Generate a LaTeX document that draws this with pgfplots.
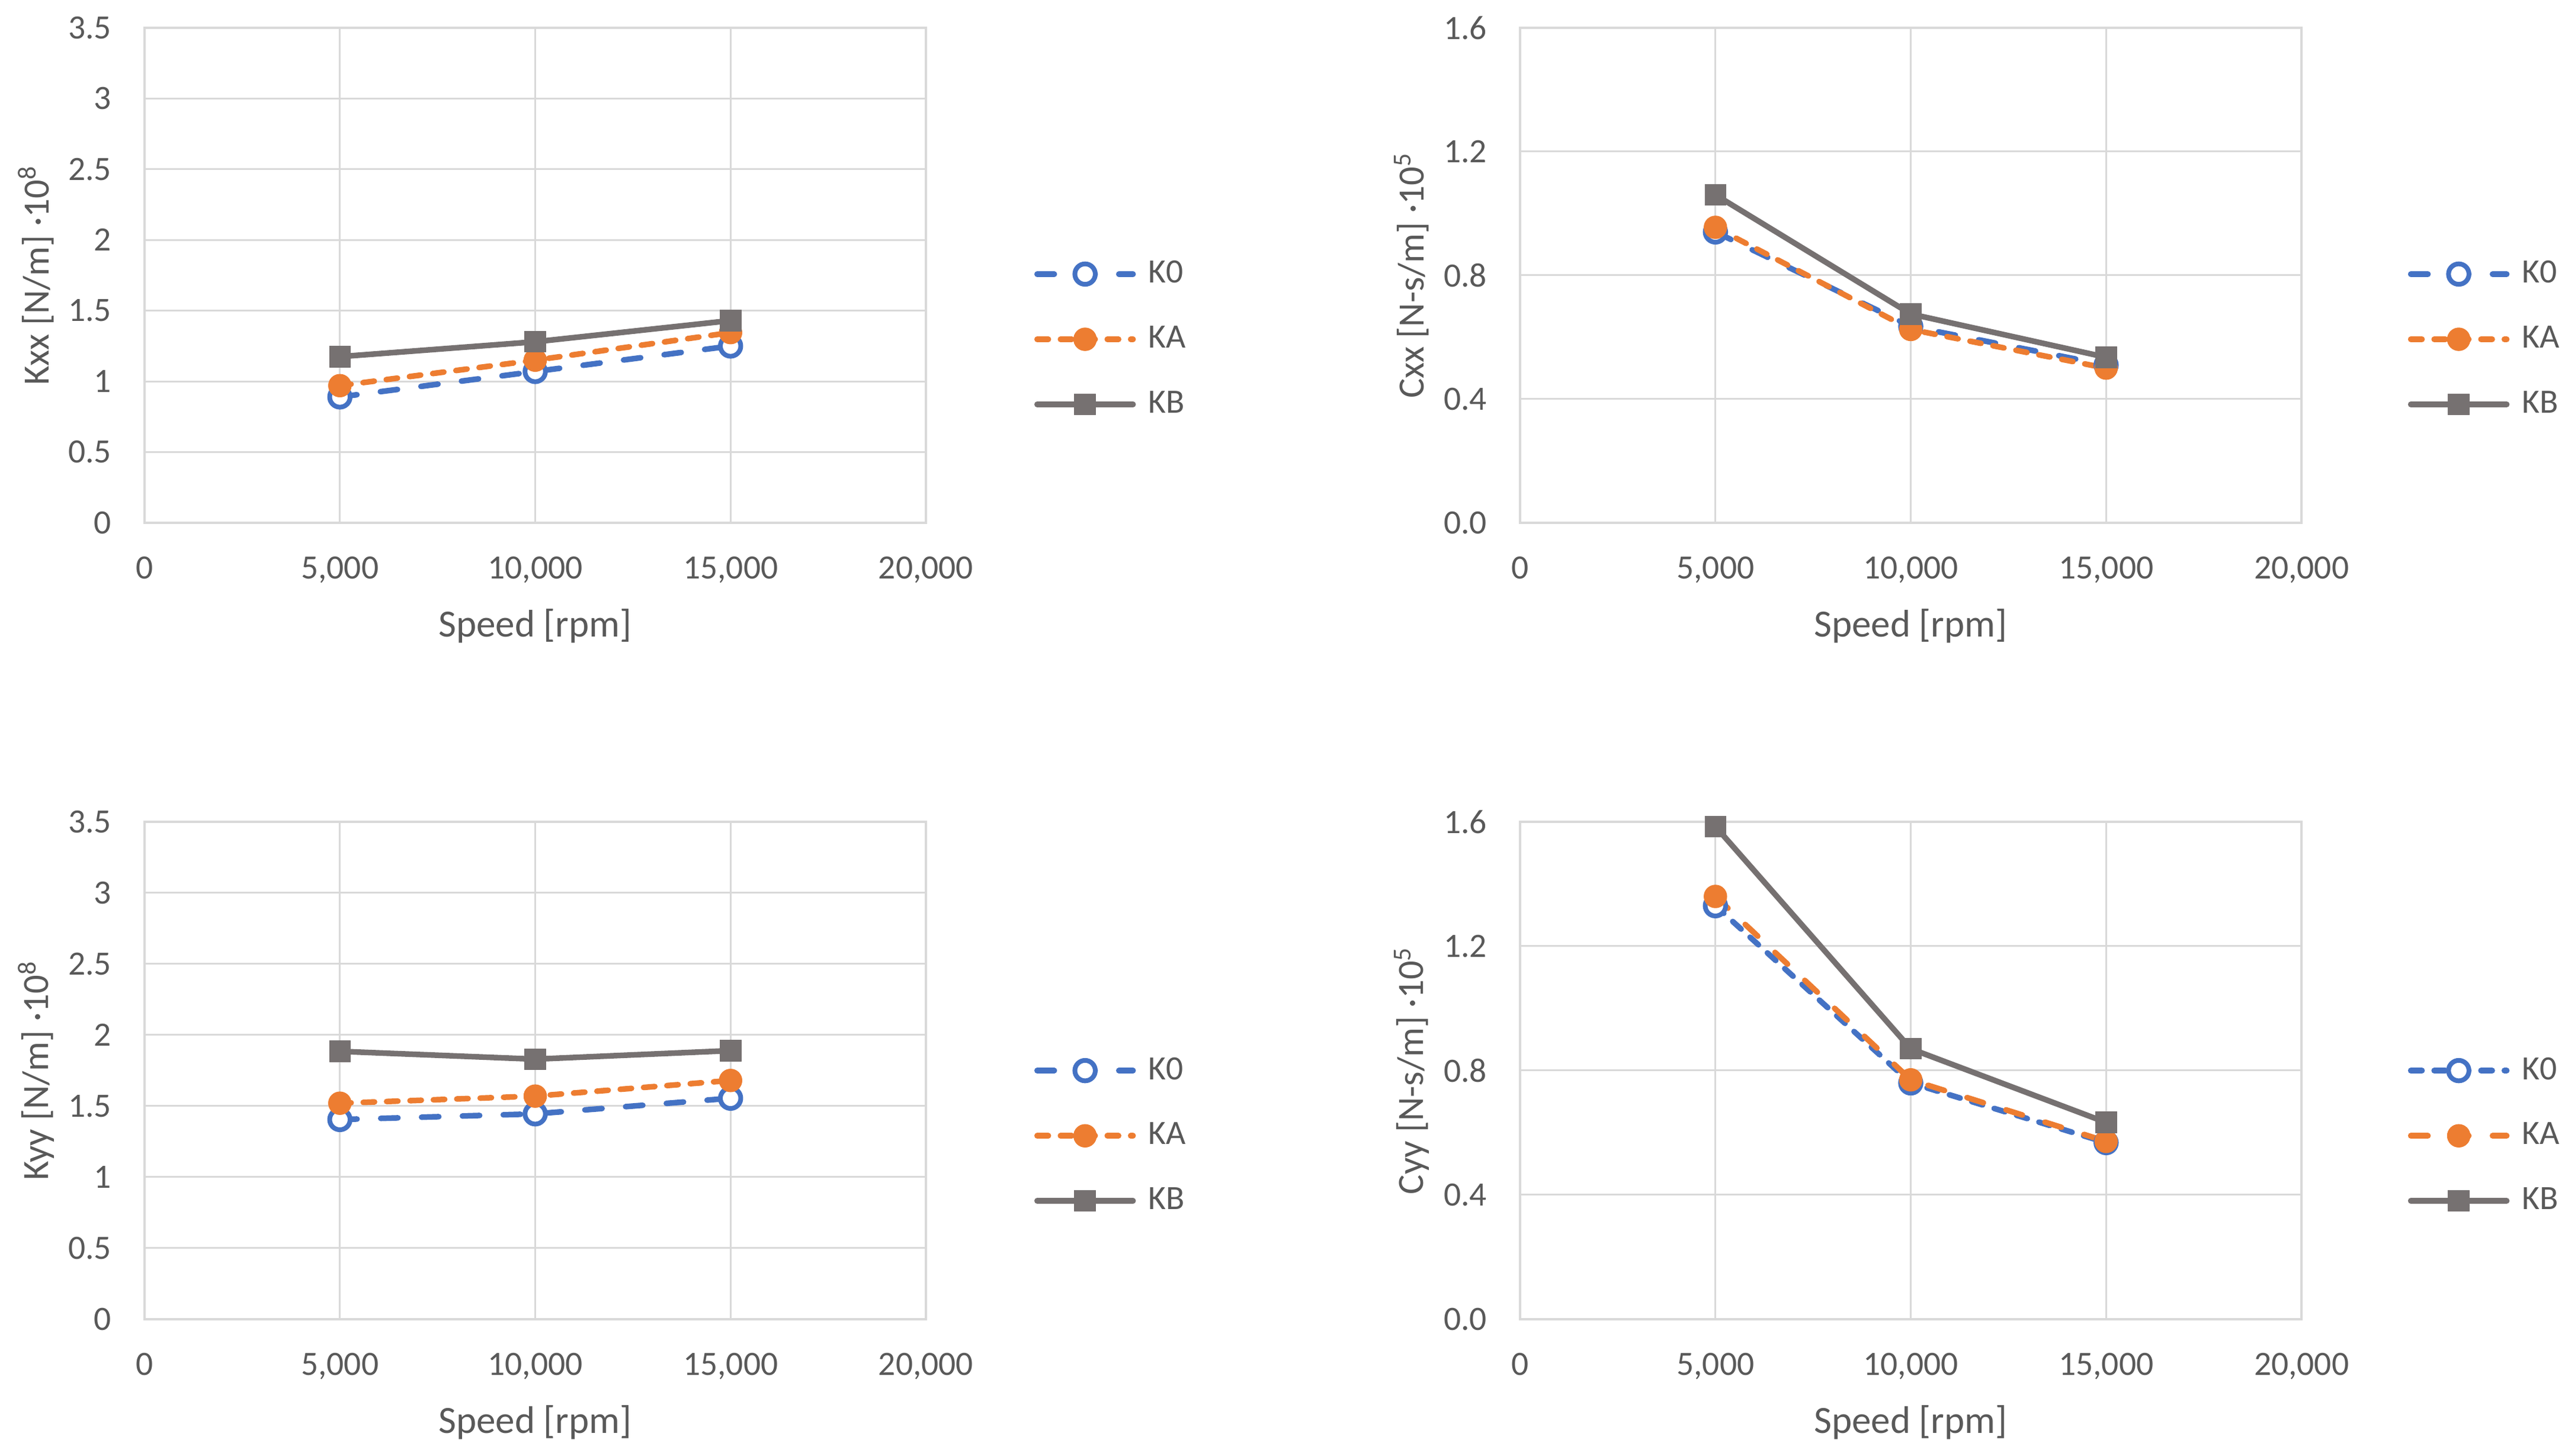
\documentclass[border=0pt]{standalone}
\usepackage{fontspec}
\setmainfont{Carlito}
\usepackage{pgfplots}
\pgfplotsset{compat=1.18}
\definecolor{cK0}{HTML}{4472C4}
\definecolor{cKA}{HTML}{ED7D31}
\definecolor{cKB}{HTML}{767171}
\definecolor{txt}{HTML}{595959}
\definecolor{grd}{HTML}{D9D9D9}
\pgfplotsset{
  longdash/.style={dash pattern=on 5.8pt off 8pt},
  shortdash/.style={dash pattern=on 3.8pt off 4.1pt},
  sK0/.style={cK0, line width=1.9pt, line cap=round, line join=round, mark=*, mark size=3.45pt,
    mark options={solid, fill=white, draw=cK0, line width=1.6pt}},
  sKA/.style={cKA, line width=1.9pt, line cap=round, line join=round, mark=*, mark size=3.85pt,
    mark options={solid, fill=cKA, draw=cKA, line width=0.2pt}},
  sKB/.style={cKB, line width=1.9pt, line cap=round, line join=round, mark=square*, mark size=3.55pt,
    mark options={solid, fill=cKB, draw=cKB, line width=0.2pt}},
  myaxis/.style={
    scale only axis, width=263.8pt, height=#1,
    xmin=0, xmax=20000,
    scaled x ticks=false, scaled y ticks=false,
    xtick={0,5000,10000,15000,20000},
    xticklabels={0,{5,000},{10,000},{15,000},{20,000}},
    grid=major, grid style={grd, line width=0.6pt},
    axis line style={grd, line width=0.8pt},
    major tick length=0pt, tick style={draw=none},
    every tick label/.append style={font=\fontsize{11.5}{13}\selectfont, text=txt, inner sep=0pt},
    xticklabel style={anchor=base, yshift=-19pt},
    yticklabel style={anchor=east, xshift=-11pt},
    xlabel={Speed [rpm]},
    xlabel style={at={(axis description cs:0.5,-0.2297)}, anchor=base, font=\fontsize{13}{15}\selectfont, text=txt, inner sep=0pt},
    ylabel style={at={(axis description cs:-0.1387,0.5)}, anchor=center, font=\fontsize{12.5}{15}\selectfont, text=txt, inner sep=0pt},
    legend cell align=left,
    legend image code/.code={\draw[mark repeat=2,mark phase=2,##1] plot coordinates {(0pt,0pt) (16.2pt,0pt) (32.4pt,0pt)};},
    legend style={draw=none, fill=none, anchor=west, row sep=13.1pt, column sep=4.3pt,
      inner sep=0pt, outer sep=0pt, font=\fontsize{11.5}{13}\selectfont,
      nodes={inner sep=0pt, outer sep=0pt, text=txt}},
  },
  kaxis/.style={ymin=0, ymax=3.5, ytick={0,0.5,1,1.5,2,2.5,3,3.5},
    yticklabels={0,0.5,1,1.5,2,2.5,3,3.5}},
  caxis/.style={ymin=0, ymax=1.6, ytick={0,0.4,0.8,1.2,1.6},
    yticklabels={0.0,0.4,0.8,1.2,1.6}},
}
\begin{document}
\begin{tikzpicture}
% Top left: Kxx
\begin{axis}[myaxis=167.2pt, kaxis, at={(48.8pt,315.2pt)}, anchor=south west,
  ylabel={Kxx [N/m] ·10\textsuperscript{8}},
  legend style={at={(axis description cs:1.1387,0.371)}}]
\addplot[sK0, longdash] coordinates {(5000,0.89) (10000,1.07) (15000,1.25)};
\addplot[sKA, shortdash] coordinates {(5000,0.97) (10000,1.15) (15000,1.345)};
\addplot[sKB] coordinates {(5000,1.175) (10000,1.28) (15000,1.43)};
\legend{K0,KA,KB}
\end{axis}
% Top right: Cxx
\begin{axis}[myaxis=167.2pt, caxis, at={(513.2pt,315.2pt)}, anchor=south west,
  ylabel={Cxx [N-s/m] ·10\textsuperscript{5}},
  legend style={at={(axis description cs:1.1363,0.371)}}]
\addplot[sK0, longdash] coordinates {(5000,0.94) (10000,0.635) (15000,0.51)};
\addplot[sKA, shortdash] coordinates {(5000,0.955) (10000,0.625) (15000,0.50)};
\addplot[sKB] coordinates {(5000,1.06) (10000,0.675) (15000,0.535)};
\legend{K0,KA,KB}
\end{axis}
% Bottom left: Kyy
\begin{axis}[myaxis=168pt, kaxis, at={(48.8pt,46.2pt)}, anchor=south west,
  ylabel={Kyy [N/m] ·10\textsuperscript{8}},
  xlabel style={at={(axis description cs:0.5,-0.2286)}},
  legend style={at={(axis description cs:1.1387,0.369)}}]
\addplot[sK0, longdash] coordinates {(5000,1.405) (10000,1.445) (15000,1.555)};
\addplot[sKA, shortdash] coordinates {(5000,1.52) (10000,1.57) (15000,1.68)};
\addplot[sKB] coordinates {(5000,1.885) (10000,1.83) (15000,1.89)};
\legend{K0,KA,KB}
\end{axis}
% Bottom right: Cyy
\begin{axis}[myaxis=168pt, caxis, at={(513.2pt,46.2pt)}, anchor=south west,
  ylabel={Cyy [N-s/m] ·10\textsuperscript{5}},
  xlabel style={at={(axis description cs:0.5,-0.2286)}},
  legend style={at={(axis description cs:1.1363,0.369)}}]
\addplot[sK0, shortdash] coordinates {(5000,1.33) (10000,0.76) (15000,0.568)};
\addplot[sKA, longdash] coordinates {(5000,1.36) (10000,0.77) (15000,0.572)};
\addplot[sKB] coordinates {(5000,1.585) (10000,0.87) (15000,0.633)};
\legend{K0,KA,KB}
\end{axis}
\pgfresetboundingbox
\path[use as bounding box] (0,0) rectangle (867pt,491.8pt);
\end{tikzpicture}
\end{document}
